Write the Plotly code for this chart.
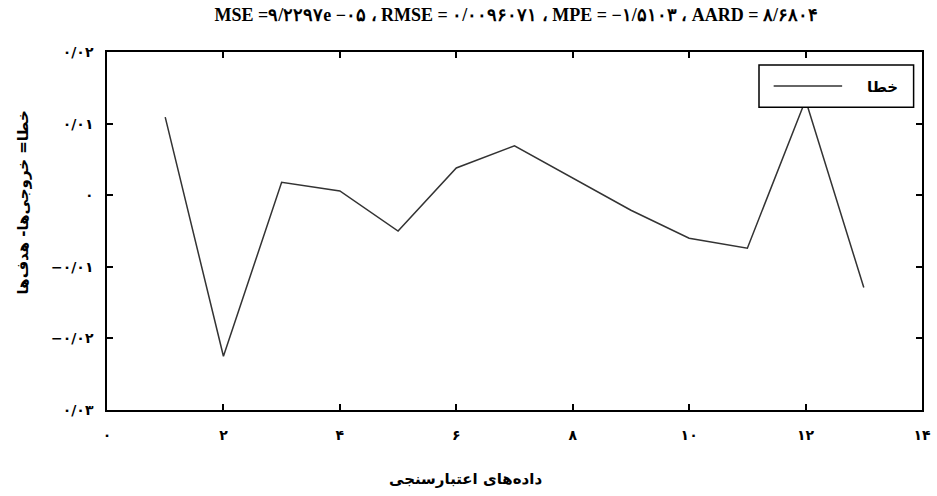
import plotly.graph_objects as go

FA = str.maketrans("0123456789", "۰۱۲۳۴۵۶۷۸۹")

def fa(s):
    return s.translate(FA)

# data
x_vals = [1, 2, 3, 4, 5, 6, 7, 8, 9, 10, 11, 12, 13]
err_vals = [0.0109, -0.0225, 0.0018, 0.0006, -0.0050, 0.0038, 0.0069,
            0.0024, -0.0021, -0.0060, -0.0074, 0.0133, -0.0129]

x_tickvals = [0, 2, 4, 6, 8, 10, 12, 14]
x_ticktext = [fa(str(v)) for v in x_tickvals]
y_tickvals = [0.02, 0.01, 0, -0.01, -0.02, -0.03]
y_ticktext = ["۰/۰۲", "۰/۰۱", "۰", "−۰/۰۱", "−۰/۰۲", "۰/۰۳"]

title_text = "MSE =۹/۲۲۹۷e −۰۵ ، RMSE = ۰/۰۰۹۶۰۷۱ ، MPE = −۱/۵۱۰۳ ، AARD = ۸/۶۸۰۴"
series_name = "خطا"
x_title = "داده‌های اعتبارسنجی"
y_title = "خطا= خروجی‌ها- هدف‌ها"

fig = go.Figure()
fig.add_trace(go.Scatter(x=x_vals, y=err_vals, mode="lines", name=series_name,
                         line=dict(color="#333333", width=1.5), showlegend=False))

tick_font = dict(family="DejaVu Sans", size=14, color="black", weight="bold")
axis_common = dict(showline=True, linecolor="black", linewidth=1.5, mirror="ticks",
                   ticks="inside", ticklen=6, tickwidth=1.5, tickcolor="black",
                   showgrid=False, zeroline=False, tickfont=tick_font,
                   ticklabeloverflow="allow")

fig.update_xaxes(range=[0, 14], tickvals=x_tickvals, ticktext=x_ticktext,
                 ticklabelstandoff=11, **axis_common)
fig.update_yaxes(range=[-0.03, 0.02], tickvals=y_tickvals, ticktext=y_ticktext,
                 ticklabelstandoff=9, **axis_common)

axis_title_font = dict(family="DejaVu Sans", size=15, color="black", weight="bold")
# x-axis title
fig.add_annotation(xref="paper", yref="paper", x=0.44, y=-0.193, text=x_title, showarrow=False,
                   xanchor="center", yanchor="middle", font=axis_title_font)
# y-axis title placed as rotated text
fig.add_annotation(xref="paper", yref="paper", x=-0.103, y=0.58, text=y_title, showarrow=False,
                   textangle=-90, xanchor="center", yanchor="middle", font=axis_title_font)

# legend box (drawn in paper coordinates)
fig.add_shape(type="rect", xref="paper", yref="paper", x0=0.800, x1=0.9897, y0=0.846, y1=0.964,
              line=dict(color="black", width=1.5), fillcolor="white", layer="above")
fig.add_shape(type="line", xref="paper", yref="paper", x0=0.818, x1=0.902, y0=0.905, y1=0.905,
              line=dict(color="#333333", width=1.5), layer="above")
fig.add_annotation(xref="paper", yref="paper", x=0.973, y=0.905, yshift=10, text=series_name,
                   showarrow=False, font=axis_title_font)

fig.update_layout(
    width=937, height=496,
    margin=dict(l=107, r=6, t=52, b=86),
    paper_bgcolor="white", plot_bgcolor="white",
    title=dict(text=title_text, x=0.551, xanchor="center", y=0.97, yanchor="middle",
               font=dict(family="Liberation Serif", size=18, color="black", weight="bold")),
)

fig.write_html("out.html")
